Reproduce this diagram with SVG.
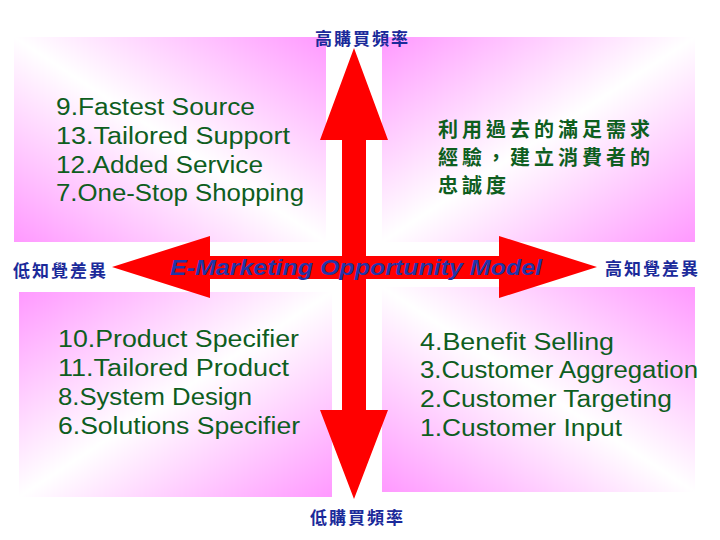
<svg xmlns="http://www.w3.org/2000/svg" width="720" height="540" viewBox="0 0 720 540">
<defs>
<linearGradient id="gA" x1="1" y1="0" x2="0" y2="1">
<stop offset="0" stop-color="#FF99FF"/><stop offset="0.5" stop-color="#FFFFFF"/><stop offset="1" stop-color="#FF99FF"/>
</linearGradient>
<linearGradient id="gB" x1="0" y1="0" x2="1" y2="1">
<stop offset="0" stop-color="#FF99FF"/><stop offset="0.5" stop-color="#FFFFFF"/><stop offset="1" stop-color="#FF99FF"/>
</linearGradient>
<style>
.en{font-family:"Liberation Sans","DejaVu Sans",sans-serif;font-size:23px;fill:#0E5E1E;}
.zh{font-family:"Noto Sans CJK TC","Noto Sans CJK SC",sans-serif;font-weight:bold;font-size:20px;fill:#0E5E1E;letter-spacing:4px;}
.lbl{font-family:"Noto Sans CJK TC","Noto Sans CJK SC",sans-serif;font-weight:bold;font-size:17px;fill:#1B2A9A;letter-spacing:2px;}
.title{font-family:"Liberation Sans","DejaVu Sans",sans-serif;font-style:italic;font-weight:bold;font-size:22px;fill:#2236A8;}
.arrow{fill:#FF0000;}
</style>
</defs>
<rect width="720" height="540" fill="#FFFFFF"/>
<g id="quad-tl"><rect x="14" y="37" width="312" height="205" fill="url(#gA)"/>
<text class="en" x="56" y="115" textLength="199" lengthAdjust="spacingAndGlyphs">9.Fastest Source</text>
<text class="en" x="56" y="144" textLength="234" lengthAdjust="spacingAndGlyphs">13.Tailored Support</text>
<text class="en" x="56" y="173" textLength="207" lengthAdjust="spacingAndGlyphs">12.Added Service</text>
<text class="en" x="56" y="201" textLength="248" lengthAdjust="spacingAndGlyphs">7.One-Stop Shopping</text>
</g>
<g id="quad-tr"><rect x="382" y="37" width="313" height="205" fill="url(#gB)"/>
<text class="zh" x="438" y="137">利用過去的滿足需求</text>
<text class="zh" x="438" y="165">經驗，建立消費者的</text>
<text class="zh" x="438" y="193">忠誠度</text>
</g>
<g id="quad-bl"><rect x="19" y="292" width="313" height="205" fill="url(#gB)"/>
<text class="en" x="58" y="347" textLength="241" lengthAdjust="spacingAndGlyphs">10.Product Specifier</text>
<text class="en" x="58" y="376" textLength="231" lengthAdjust="spacingAndGlyphs">11.Tailored Product</text>
<text class="en" x="58" y="405" textLength="194" lengthAdjust="spacingAndGlyphs">8.System Design</text>
<text class="en" x="58" y="434" textLength="242" lengthAdjust="spacingAndGlyphs">6.Solutions Specifier</text>
</g>
<g id="quad-br"><rect x="382" y="287" width="313" height="205" fill="url(#gA)"/>
<text class="en" x="420" y="350" textLength="194" lengthAdjust="spacingAndGlyphs">4.Benefit Selling</text>
<text class="en" x="420" y="378" textLength="278" lengthAdjust="spacingAndGlyphs">3.Customer Aggregation</text>
<text class="en" x="420" y="407" textLength="252" lengthAdjust="spacingAndGlyphs">2.Customer Targeting</text>
<text class="en" x="420" y="436" textLength="202" lengthAdjust="spacingAndGlyphs">1.Customer Input</text>
</g>
<g id="connectors">
<polygon class="arrow" points="354,48 388,140 366,140 366,410 388,410 354,499 320,410 342,410 342,140 320,140"/>
<polygon class="arrow" points="112,267 210,236 210,256 499,256 499,236 597,267 499,298 499,279 210,279 210,298"/>
</g>
<g id="title"><text class="title" x="170" y="275" textLength="372" lengthAdjust="spacingAndGlyphs">E-Marketing Opportunity Model</text></g>
<g id="label-top"><text class="lbl" x="315" y="45">高購買頻率</text></g>
<g id="label-bottom"><text class="lbl" x="310" y="524">低購買頻率</text></g>
<g id="label-left"><text class="lbl" x="13" y="277">低知覺差異</text></g>
<g id="label-right"><text class="lbl" x="605" y="275">高知覺差異</text></g>
</svg>
